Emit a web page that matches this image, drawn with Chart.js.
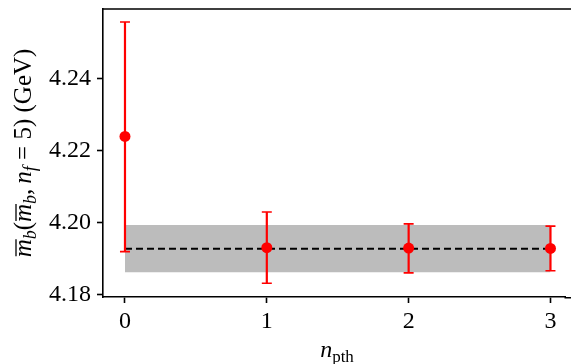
<!DOCTYPE html>
<html>
<head>
<meta charset="utf-8">
<script src="https://cdn.jsdelivr.net/npm/chart.js@4.4.0/dist/chart.umd.min.js"></script>
<style>
  html, body { margin: 0; padding: 0; background: #fff; }
  #wrap { width: 571px; height: 364px; }
</style>
</head>
<body>
<div id="wrap"><canvas id="chart" width="571" height="364"></canvas></div>
<script>
// values
const nPth = [0, 1, 2, 3];
const mbValues = [4.224, 4.1931, 4.1930, 4.1929];
const errUpper = [4.2558, 4.2030, 4.1997, 4.1991];
const errLower = [4.1920, 4.1832, 4.1861, 4.1867];
const bandX = [0, 3];
const bandLow = [4.1863, 4.1863];
const bandHigh = [4.1994, 4.1994];
const meanLine = [4.1928, 4.1928];
const yTicks = [4.18, 4.20, 4.22, 4.24];

const serif = "'Liberation Serif', 'DejaVu Serif', serif";
Chart.defaults.font.family = serif;
Chart.defaults.color = '#000';

// red error bars with caps, drawn just under the points
const errorBars = {
  id: 'errorBars',
  beforeDatasetDraw(chart, args) {
    if (args.index !== 0) return;
    const { ctx, scales: { x, y } } = chart;
    ctx.save();
    ctx.strokeStyle = '#ff0000';
    nPth.forEach((n, i) => {
      const px = x.getPixelForValue(n);
      const top = y.getPixelForValue(errUpper[i]);
      const bot = y.getPixelForValue(errLower[i]);
      ctx.lineWidth = 2.2;
      ctx.beginPath();
      ctx.moveTo(px, top);
      ctx.lineTo(px, bot);
      ctx.stroke();
      ctx.lineWidth = 1.6;
      ctx.beginPath();
      ctx.moveTo(px - 5, top);
      ctx.lineTo(px + 5, top);
      ctx.moveTo(px - 5, bot);
      ctx.lineTo(px + 5, bot);
      ctx.stroke();
    });
    ctx.restore();
  }
};

function drawRich(ctx, runs, cx, baseY, size) {
  const fontOf = r => (r.it ? 'italic ' : '') + (r.sub ? Math.round(size * 0.7) : size) + 'px ' + serif;
  let total = 0;
  runs.forEach(r => { ctx.font = fontOf(r); r.w = ctx.measureText(r.t).width; total += r.w; });
  let xx = cx - total / 2;
  ctx.textBaseline = 'alphabetic';
  ctx.textAlign = 'left';
  runs.forEach(r => {
    ctx.font = fontOf(r);
    ctx.fillText(r.t, xx, baseY + (r.sub ? 5 : 0));
    if (r.over) {
      ctx.lineWidth = 1.3;
      ctx.beginPath();
      ctx.moveTo(xx + 1, baseY - 15);
      ctx.lineTo(xx + r.w, baseY - 15);
      ctx.stroke();
    }
    xx += r.w;
  });
}

const frameAndTitles = {
  id: 'frameAndTitles',
  afterDraw(chart) {
    const { ctx, chartArea } = chart;
    ctx.save();
    ctx.strokeStyle = '#000';
    ctx.fillStyle = '#000';
    ctx.lineWidth = 1.6;
    ctx.beginPath();
    ctx.moveTo(chartArea.left - 0.8, chartArea.top);
    ctx.lineTo(chart.width, chartArea.top);
    ctx.moveTo(chartArea.right - 1, chartArea.bottom + 0.8);
    ctx.lineTo(chart.width, chartArea.bottom + 0.8);
    ctx.stroke();

    drawRich(ctx, [
      { t: 'n', it: 1 },
      { t: 'pth', sub: 1 }
    ], 337, 357, 24);

    ctx.translate(31, (chartArea.top + chartArea.bottom) / 2);
    ctx.rotate(-Math.PI / 2);
    drawRich(ctx, [
      { t: 'm', it: 1, over: 1 },
      { t: 'b', it: 1, sub: 1 },
      { t: '(' },
      { t: 'm', it: 1, over: 1 },
      { t: 'b', it: 1, sub: 1 },
      { t: ',\u2009' },
      { t: 'n', it: 1 },
      { t: 'f', it: 1, sub: 1 },
      { t: ' = 5) (GeV)' }
    ], 0, 0, 25);
    ctx.restore();
  }
};

const axisLook = {
  border: { display: true, color: '#000', width: 1.6 },
  grid: { display: true, drawOnChartArea: false, drawTicks: true, tickLength: 6, tickColor: '#000', tickWidth: 1.6 }
};

new Chart(document.getElementById('chart'), {
  type: 'scatter',
  data: {
    datasets: [
      {
        label: 'points',
        data: nPth.map((n, i) => ({ x: n, y: mbValues[i] })),
        backgroundColor: '#ff0000',
        borderColor: '#ff0000',
        pointRadius: 5.5,
        borderWidth: 0
      },
      {
        label: 'mean',
        type: 'line',
        data: bandX.map((n, i) => ({ x: n, y: meanLine[i] })),
        borderColor: '#000',
        borderWidth: 2.2,
        borderDash: [7, 4],
        pointRadius: 0,
        fill: false
      },
      {
        label: 'band high',
        type: 'line',
        data: bandX.map((n, i) => ({ x: n, y: bandHigh[i] })),
        borderWidth: 0,
        borderColor: 'rgba(0,0,0,0)',
        backgroundColor: '#bcbcbc',
        pointRadius: 0,
        fill: '+1'
      },
      {
        label: 'band low',
        type: 'line',
        data: bandX.map((n, i) => ({ x: n, y: bandLow[i] })),
        borderWidth: 0,
        borderColor: 'rgba(0,0,0,0)',
        pointRadius: 0,
        fill: false
      }
    ]
  },
  options: {
    responsive: false,
    animation: false,
    layout: { padding: { top: 9, right: 0, left: 0, bottom: 0 } },
    plugins: { legend: { display: false }, tooltip: { enabled: false } },
    scales: {
      x: {
        type: 'linear',
        min: -0.155,
        max: 3.106,
        ...axisLook,
        afterBuildTicks: axis => { axis.ticks = nPth.map(v => ({ value: v })); },
        afterFit: axis => { axis.height = 67; axis.paddingLeft = 0; axis.paddingRight = 0; },
        ticks: { font: { size: 24 }, padding: 4, maxRotation: 0, callback: v => String(v) }
      },
      y: {
        min: 4.1794,
        max: 4.2594,
        ...axisLook,
        afterBuildTicks: axis => { axis.ticks = yTicks.map(v => ({ value: v })); },
        afterFit: axis => { axis.width = 103; axis.paddingTop = 0; axis.paddingBottom = 0; },
        ticks: { font: { size: 24 }, padding: 6, callback: v => v.toFixed(2) }
      }
    }
  },
  plugins: [errorBars, frameAndTitles]
});
</script>
</body>
</html>
